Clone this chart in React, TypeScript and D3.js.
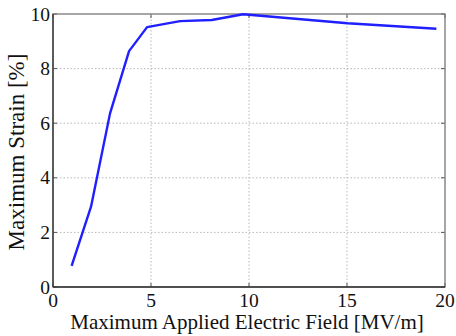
import React from 'react';
import * as d3 from 'd3';

// field [MV/m] vs strain [%]
const fieldValues = [0.95, 1.94, 2.91, 3.88, 4.8, 6.48, 8.1, 9.7, 15.03, 19.56];
const strainValues = [0.77, 2.94, 6.36, 8.64, 9.52, 9.74, 9.78, 9.99, 9.66, 9.46];
const xTicks = [0, 5, 10, 15, 20];
const yTicks = [0, 2, 4, 6, 8, 10];

const W = 456;
const H = 336;
const margin = { left: 53, right: 11, top: 14, bottom: 49 };
const font = "'Liberation Serif', 'Times New Roman', serif";

const App: React.FC = () => {
  const x = d3.scaleLinear().domain([0, 20]).range([margin.left, W - margin.right]);
  const y = d3.scaleLinear().domain([0, 10]).range([H - margin.bottom, margin.top]);

  const points = fieldValues.map((f, i) => [f, strainValues[i]] as [number, number]);
  const line = d3.line<[number, number]>()
    .x(d => x(d[0]))
    .y(d => y(d[1]));

  const [x0, x1] = x.range();
  const [y0, y1] = y.range();

  return (
    <svg
      width={W}
      height={H}
      style={{ position: 'absolute', left: 0, top: 0, background: '#fff', fontFamily: font }}
    >
      {/* grid */}
      {xTicks.slice(1, -1).map(t => (
        <line key={'gx' + t} x1={x(t)} x2={x(t)} y1={y0} y2={y1}
          stroke="#b8b8b8" strokeWidth={1} strokeDasharray="1.5 2" />
      ))}
      {yTicks.slice(1, -1).map(t => (
        <line key={'gy' + t} x1={x0} x2={x1} y1={y(t)} y2={y(t)}
          stroke="#b8b8b8" strokeWidth={1} strokeDasharray="1.5 2" />
      ))}

      {/* inner ticks on all four sides */}
      {xTicks.map(t => (
        <g key={'tx' + t} stroke="#555" strokeWidth={1}>
          <line x1={x(t)} x2={x(t)} y1={y0} y2={y0 - 4} />
          <line x1={x(t)} x2={x(t)} y1={y1} y2={y1 + 4} />
        </g>
      ))}
      {yTicks.map(t => (
        <g key={'ty' + t} stroke="#555" strokeWidth={1}>
          <line x1={x0} x2={x0 + 4} y1={y(t)} y2={y(t)} />
          <line x1={x1} x2={x1 - 4} y1={y(t)} y2={y(t)} />
        </g>
      ))}

      {/* box */}
      <rect x={x0} y={y1} width={x1 - x0} height={y0 - y1}
        fill="none" stroke="#777" strokeWidth={1.3} />
      <line x1={x0} x2={x0} y1={y1} y2={y0} stroke="#333" strokeWidth={1.3} />
      <line x1={x0} x2={x1} y1={y0} y2={y0} stroke="#333" strokeWidth={1.3} />

      {/* data */}
      <path d={line(points) ?? ''} fill="none" stroke="#1f1fff"
        strokeWidth={2.4} strokeLinejoin="round" />

      {/* tick labels */}
      {xTicks.map(t => (
        <text key={'lx' + t} x={x(t)} y={306.5} textAnchor="middle"
          fontSize={19.5} fill="#111">{t}</text>
      ))}
      {yTicks.map(t => (
        <text key={'ly' + t} x={x0 - 3} y={y(t) + 6.5} textAnchor="end"
          fontSize={19.5} fill="#111">{t}</text>
      ))}

      {/* axis titles */}
      <text x={(x0 + x1) / 2 - 2} y={328.5} textAnchor="middle" fontSize={21} fill="#111">
        Maximum Applied Electric Field [MV/m]
      </text>
      <text transform={`translate(24,152) rotate(-90)`} textAnchor="middle"
        fontSize={23} fill="#111">
        Maximum Strain [%]
      </text>
    </svg>
  );
};

export default App;
